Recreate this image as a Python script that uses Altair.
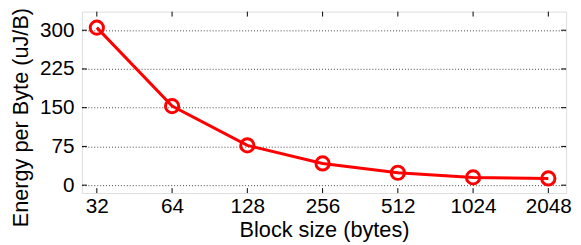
import altair as alt
import pandas as pd

block_sizes = [32, 64, 128, 256, 512, 1024, 2048]
energy = [305, 153, 77, 42, 24, 15, 13]
y_ticks = [0, 75, 150, 225, 300]

df = pd.DataFrame({"size": block_sizes, "energy": energy})
df_xt = pd.DataFrame({"size": block_sizes})
df_yt = pd.DataFrame({"v": y_ticks})

W, H = 491, 184
FONT = "Liberation Sans"

xscale = alt.Scale(type="log", base=2, domain=[27.9, 2412], nice=False)
yscale = alt.Scale(domain=[-15.3, 336], nice=False, zero=False)

x_enc = alt.X("size:Q", scale=xscale,
              axis=alt.Axis(values=block_sizes, format="d", grid=False, tickSize=0,
                            domain=False, labelPadding=3, labelFontSize=21,
                            labelFont=FONT, labelColor="black",
                            title="Block size (bytes)", titleFontSize=22,
                            titleFont=FONT, titleFontWeight="normal", titleColor="black",
                            titleY=27, titleBaseline="top", labelFlush=False))
y_enc = alt.Y("energy:Q", scale=yscale,
              axis=alt.Axis(values=y_ticks, grid=True, gridDash=[1, 2], gridColor="#444444",
                            gridWidth=1, tickSize=0, domain=False, labelPadding=8,
                            labelFontSize=21, labelFont=FONT, labelColor="black",
                            title="Energy per Byte (uJ/B)", titleFontSize=22,
                            titleFont=FONT, titleFontWeight="normal", titleColor="black",
                            titleX=-50, titleY=107))

line = alt.Chart(df).mark_line(color="#ff0000", strokeWidth=3).encode(x=x_enc, y=y_enc)
pts = alt.Chart(df).mark_point(shape="circle", filled=False, size=180, strokeWidth=3,
                               color="#ff0000", opacity=1).encode(x="size:Q", y="energy:Q")

tick_style = dict(color="black", strokeWidth=1)
xt_top = alt.Chart(df_xt).mark_rule(**tick_style).encode(
    x="size:Q", y=alt.value(0), y2=alt.value(5))
xt_bot = alt.Chart(df_xt).mark_rule(**tick_style).encode(
    x="size:Q", y=alt.value(H), y2=alt.value(H - 5))
yt_left = alt.Chart(df_yt).mark_rule(**tick_style).encode(
    y=alt.Y("v:Q"), x=alt.value(0), x2=alt.value(5))
yt_right = alt.Chart(df_yt).mark_rule(**tick_style).encode(
    y=alt.Y("v:Q"), x=alt.value(W), x2=alt.value(W - 5))

chart = alt.layer(line, xt_top, xt_bot, yt_left, yt_right, pts).properties(
    width=W, height=H,
    autosize=alt.AutoSizeParams(type="none"),
    padding={"left": 75, "top": 2, "right": 7, "bottom": 50},
).configure_view(stroke="black", strokeWidth=1.5).configure(background="white")

chart.save("out.html", embed_options={"renderer": "svg", "actions": False})
